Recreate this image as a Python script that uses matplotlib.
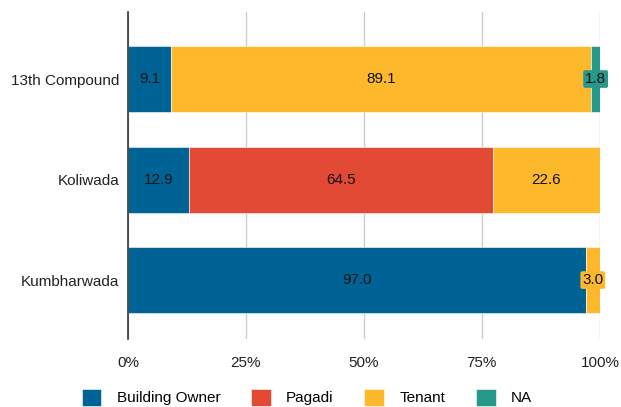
import numpy as np
import matplotlib
matplotlib.use("Agg")
from matplotlib import pyplot as plt

plt.rcParams['font.family'] = ['Liberation Sans', 'DejaVu Sans']

Areas = ["13th Compound", "Koliwada", "Kumbharwada"]
Series = ["Building Owner", "Pagadi", "Tenant", "NA"]
Building_Owner = [9.1, 12.9, 97.0]
Pagadi = [0.0, 64.5, 0.0]
Tenant = [89.1, 22.6, 3.0]
NA = [1.8, 0.0, 0.0]
Colors = ["#006395", "#E34A36", "#FDB92B", "#27998A"]
X_Ticks = [0, 25, 50, 75, 100]

def main():
    fig = plt.figure(figsize=(6.21, 4.07), dpi=100)
    ax = fig.add_axes([0.206, 0.167, 0.76, 0.8035])
    Values = [Building_Owner, Pagadi, Tenant, NA]
    y = np.arange(len(Areas))
    left = np.zeros(len(Areas))
    for i in range(len(Series)):
        vals = np.array(Values[i])
        ax.barh(y, vals, left=left, height=0.657, color=Colors[i],
                label=Series[i], zorder=3, edgecolor="white", linewidth=0.4)
        for j in range(len(Areas)):
            if vals[j] <= 0:
                continue
            cx = left[j] + vals[j] / 2
            if vals[j] < 5:
                ax.text(cx, y[j], "%.1f" % vals[j], ha="center", va="center",
                        fontsize=11, color="#111111", zorder=5,
                        bbox=dict(boxstyle="round,pad=0.12", fc=Colors[i],
                                  ec="none"))
            else:
                ax.text(cx, y[j], "%.1f" % vals[j], ha="center", va="center",
                        fontsize=11, color="#111111", zorder=5)
        left = left + vals
    ax.set_xlim(0, 100)
    ax.set_ylim(2.587, -0.667)
    ax.set_yticks(y)
    ax.set_yticklabels(Areas, fontsize=11, color="#222222")
    ax.set_xticks(X_Ticks)
    ax.set_xticklabels(["%d%%" % t for t in X_Ticks], fontsize=11,
                       color="#222222")
    ax.tick_params(axis="y", length=0, pad=6)
    ax.tick_params(axis="x", length=0, pad=12)
    ax.grid(axis="x", color="#cccccc", linewidth=1, zorder=0)
    for s in ["top", "right", "bottom"]:
        ax.spines[s].set_visible(False)
    ax.spines["left"].set_color("#333333")
    ax.spines["left"].set_linewidth(1.2)
    ax.spines["left"].set_zorder(4)
    fig.legend(loc="center", bbox_to_anchor=(0.494, 0.024), ncol=4,
               frameon=False, fontsize=11, handlelength=1.3,
               handleheight=1.3, columnspacing=2.0, handletextpad=1.0,
               borderpad=0)
    fig.savefig("out.png", dpi=100)

if __name__ == "__main__":
    main()
